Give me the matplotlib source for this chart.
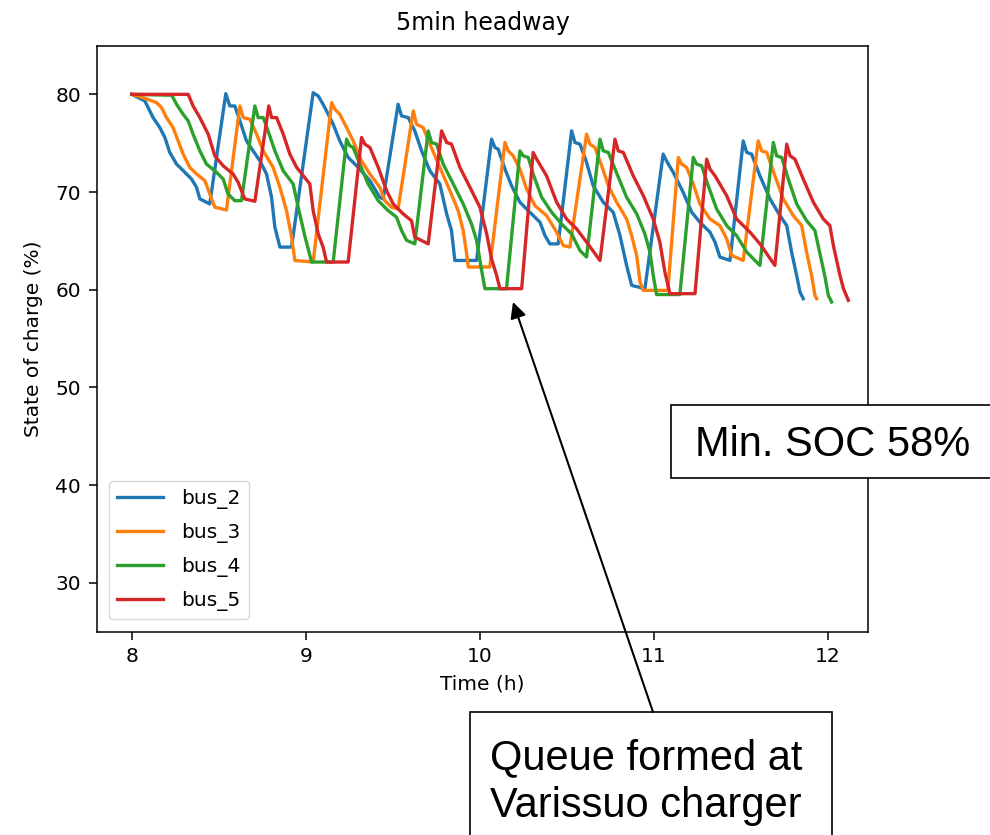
import matplotlib
matplotlib.use('Agg')
import matplotlib.pyplot as plt
from matplotlib.patches import Rectangle, FancyArrowPatch

# state of charge (time in h, SOC in %)
time_bus2 = [8.0, 8.075, 8.094, 8.122, 8.161, 8.19, 8.218, 8.257, 8.305, 8.343, 8.372, 8.391, 8.448,
             8.54, 8.563, 8.592, 8.621, 8.659, 8.697, 8.736, 8.774, 8.803, 8.822, 8.851, 8.918,
             9.042, 9.071, 9.099, 9.119, 9.157, 9.195, 9.243, 9.301, 9.368, 9.425, 9.444,
             9.53, 9.55, 9.588, 9.626, 9.665, 9.713, 9.77, 9.809, 9.837, 9.856, 9.981,
             10.067, 10.086, 10.105, 10.144, 10.182, 10.23, 10.287, 10.345, 10.374, 10.402, 10.45,
             10.527, 10.546, 10.575, 10.613, 10.651, 10.709, 10.766, 10.805, 10.843, 10.872, 10.948,
             11.053, 11.072, 11.111, 11.13, 11.168, 11.217, 11.264, 11.322, 11.351, 11.379, 11.437,
             11.513, 11.533, 11.561, 11.609, 11.667, 11.724, 11.763, 11.791, 11.82, 11.839, 11.858]
soc_bus2 = [80.0, 79.32, 78.64, 77.62, 76.6, 75.58, 74.05, 72.86, 72.01, 71.33, 70.48, 69.29, 68.78,
            80.07, 78.81, 78.81, 77.28, 75.23, 74.21, 73.19, 71.84, 69.46, 66.4, 64.36, 64.36,
            80.17, 79.83, 78.98, 78.3, 76.94, 75.23, 73.54, 72.52, 71.15, 69.46, 69.29,
            78.98, 77.79, 77.62, 76.26, 74.21, 72.17, 70.82, 67.76, 66.05, 62.99, 62.99,
            75.41, 74.56, 74.39, 72.35, 70.64, 68.95, 67.93, 66.91, 65.54, 64.69, 64.69,
            76.26, 75.07, 74.9, 73.03, 70.64, 68.95, 67.93, 65.54, 62.48, 60.44, 60.1,
            73.88, 73.19, 72.01, 71.33, 69.97, 67.93, 66.91, 65.89, 64.87, 63.34, 62.99,
            75.23, 74.05, 73.88, 71.66, 69.29, 67.58, 66.56, 63.85, 61.46, 59.77, 59.08]

time_bus3 = [8.0, 8.065, 8.142, 8.171, 8.199, 8.237, 8.266, 8.295, 8.333, 8.372, 8.42, 8.448, 8.477, 8.544,
             8.621, 8.64, 8.678, 8.717, 8.755, 8.812, 8.851, 8.889, 8.918, 8.937, 9.042,
             9.148, 9.167, 9.195, 9.234, 9.272, 9.32, 9.368, 9.425, 9.454, 9.493, 9.53,
             9.617, 9.636, 9.674, 9.713, 9.77, 9.828, 9.875, 9.904, 9.924, 9.933, 10.057,
             10.144, 10.163, 10.191, 10.23, 10.268, 10.316, 10.383, 10.441, 10.479, 10.517,
             10.613, 10.632, 10.661, 10.7, 10.738, 10.786, 10.843, 10.872, 10.901, 10.92, 10.939, 11.08,
             11.14, 11.159, 11.188, 11.226, 11.264, 11.322, 11.379, 11.418, 11.447, 11.513,
             11.599, 11.619, 11.648, 11.695, 11.743, 11.801, 11.849, 11.877, 11.906, 11.925, 11.935]
soc_bus3 = [80.0, 79.66, 79.15, 78.64, 77.62, 76.6, 75.23, 73.88, 72.52, 71.84, 71.15, 69.8, 68.44, 68.16,
            78.81, 77.62, 77.45, 75.92, 74.21, 72.52, 70.48, 68.09, 65.38, 62.99, 62.83,
            79.15, 78.47, 77.96, 76.6, 75.23, 73.19, 71.84, 70.48, 69.11, 68.44, 68.27,
            78.3, 76.94, 76.6, 74.9, 72.52, 70.13, 68.09, 66.05, 63.67, 62.32, 62.32,
            75.07, 74.21, 73.7, 72.35, 70.31, 68.61, 67.58, 65.89, 64.52, 64.36,
            75.92, 74.9, 74.56, 72.68, 70.64, 68.95, 67.24, 65.54, 63.5, 60.79, 59.93, 59.93,
            73.54, 72.86, 72.52, 70.82, 68.78, 67.24, 66.56, 65.2, 63.5, 62.99,
            75.23, 74.21, 74.05, 71.66, 69.29, 67.58, 66.56, 63.85, 61.46, 59.42, 59.08]

time_bus4 = [8.0, 8.23, 8.257, 8.295, 8.324, 8.352, 8.391, 8.429, 8.487, 8.525, 8.553, 8.592, 8.63,
             8.707, 8.726, 8.755, 8.783, 8.822, 8.87, 8.927, 8.956, 8.994, 9.033, 9.157,
             9.234, 9.253, 9.272, 9.31, 9.358, 9.416, 9.473, 9.521, 9.55, 9.579, 9.626,
             9.703, 9.722, 9.751, 9.789, 9.847, 9.904, 9.952, 9.981, 10.01, 10.029, 10.153,
             10.23, 10.249, 10.278, 10.306, 10.355, 10.412, 10.469, 10.527, 10.575, 10.613,
             10.69, 10.709, 10.738, 10.786, 10.843, 10.901, 10.948, 10.977, 10.996, 11.015, 11.149,
             11.226, 11.245, 11.274, 11.312, 11.36, 11.418, 11.475, 11.533, 11.609,
             11.686, 11.705, 11.734, 11.772, 11.82, 11.877, 11.925, 11.954, 11.983, 12.002, 12.021]
soc_bus4 = [80.0, 79.9, 78.98, 77.96, 77.28, 75.92, 74.21, 72.86, 72.01, 71.33, 69.8, 69.11, 69.11,
            78.81, 77.62, 77.62, 76.26, 74.21, 72.17, 70.82, 68.44, 65.5, 62.83, 62.83,
            75.41, 74.72, 74.56, 72.86, 70.82, 69.11, 68.09, 67.42, 66.05, 65.05, 64.69,
            76.26, 75.07, 74.9, 72.86, 70.82, 68.78, 66.73, 65.05, 61.97, 60.1, 60.1,
            74.21, 73.7, 73.54, 71.84, 69.46, 67.93, 66.73, 65.71, 64.01, 63.34,
            75.41, 74.21, 74.05, 71.93, 69.46, 67.76, 65.71, 63.85, 61.46, 59.5, 59.5,
            73.54, 72.86, 72.68, 70.64, 68.27, 66.56, 65.54, 63.85, 62.48,
            75.07, 73.7, 73.54, 71.33, 68.78, 67.07, 66.05, 63.67, 61.3, 59.42, 58.74]

time_bus5 = [8.0, 8.324, 8.352, 8.391, 8.439, 8.477, 8.525, 8.582, 8.611, 8.649, 8.707,
             8.787, 8.803, 8.832, 8.87, 8.908, 8.947, 9.023, 9.042, 9.071, 9.099, 9.119, 9.243,
             9.32, 9.339, 9.368, 9.416, 9.464, 9.502, 9.559, 9.607, 9.626, 9.703,
             9.78, 9.809, 9.837, 9.885, 9.943, 10.0, 10.039, 10.067, 10.096, 10.115, 10.24,
             10.306, 10.326, 10.383, 10.441, 10.498, 10.556, 10.613, 10.69,
             10.776, 10.795, 10.824, 10.881, 10.939, 10.996, 11.034, 11.063, 11.092, 11.236,
             11.303, 11.322, 11.351, 11.418, 11.475, 11.552, 11.609, 11.695,
             11.763, 11.782, 11.81, 11.858, 11.916, 11.973, 12.011, 12.031, 12.069, 12.089, 12.117]
soc_bus5 = [80.0, 80.0, 78.81, 77.62, 75.92, 73.7, 72.68, 71.84, 70.99, 69.29, 69.05,
            78.81, 77.62, 77.62, 75.92, 73.88, 72.52, 70.82, 68.09, 65.71, 64.36, 62.83, 62.83,
            75.58, 74.9, 74.56, 72.52, 70.13, 68.78, 67.76, 67.07, 65.38, 64.69,
            76.26, 75.07, 74.9, 72.52, 70.48, 68.44, 65.71, 63.16, 61.46, 60.1, 60.1,
            74.05, 73.37, 71.66, 68.95, 67.24, 66.22, 64.87, 62.99,
            75.41, 74.21, 74.05, 71.66, 69.62, 67.24, 64.87, 61.81, 59.59, 59.59,
            73.37, 72.35, 71.66, 69.62, 67.24, 65.89, 64.69, 62.48,
            74.9, 73.7, 73.37, 71.33, 68.95, 67.24, 66.56, 64.52, 61.46, 60.1, 58.91]

bus_names = ['bus_2', 'bus_3', 'bus_4', 'bus_5']
x_ticks = [8, 9, 10, 11, 12]
y_ticks = [30, 40, 50, 60, 70, 80]

W, H = 990, 835


def fx(px):
    return px / W


def fy(py):
    return 1 - py / H


fig = plt.figure(figsize=(9.9, 8.35), dpi=100)
ax = fig.add_axes([fx(97), fy(631.5), (868 - 97) / W, 586 / H])

series = [(time_bus2, soc_bus2), (time_bus3, soc_bus3), (time_bus4, soc_bus4), (time_bus5, soc_bus5)]
for (t, s), name in zip(series, bus_names):
    ax.plot(t, s, lw=2.4, label=name)

ax.set_xlim(7.8, 12.23)
ax.set_ylim(25, 85)
ax.set_xticks(x_ticks)
ax.set_yticks(y_ticks)
ax.tick_params(labelsize=14.5, length=6, width=1.1, pad=5.5)
for sp in ax.spines.values():
    sp.set_linewidth(1.1)
ax.set_xlabel('Time (h)', fontsize=14.5, labelpad=6)
ax.set_ylabel('State of charge (%)', fontsize=14.5, labelpad=9)
ax.set_title('5min headway', fontsize=17, pad=11)
ax.legend(loc='lower left', fontsize=14.5, labelspacing=0.7, handlelength=2.3,
          handletextpad=0.9, borderaxespad=0.6)

# slide annotations on top of the figure
box_kw = dict(transform=fig.transFigure, facecolor='white', edgecolor='black', lw=1.2, zorder=5)
fig.add_artist(Rectangle((fx(671), fy(478)), fx(1000) - fx(671), (478 - 405) / H, **box_kw))
fig.add_artist(Rectangle((fx(470), fy(850)), fx(832) - fx(470), (850 - 712) / H, **box_kw))

txt_kw = dict(fontsize=30, family=['Liberation Sans', 'DejaVu Sans'], va='baseline', ha='left', zorder=6)
fig.text(fx(695), fy(456), 'Min. SOC 58%', **txt_kw)
fig.text(fx(490), fy(769), 'Queue formed at', **txt_kw)
fig.text(fx(490), fy(817), 'Varissuo charger', **txt_kw)

arrow = FancyArrowPatch((fx(653), fy(712)), (fx(513), fy(302)), transform=fig.transFigure,
                        arrowstyle='-|>', mutation_scale=24, lw=1.5, color='black',
                        shrinkA=0, shrinkB=0, zorder=6)
fig.add_artist(arrow)

fig.savefig('out.png', dpi=100)
